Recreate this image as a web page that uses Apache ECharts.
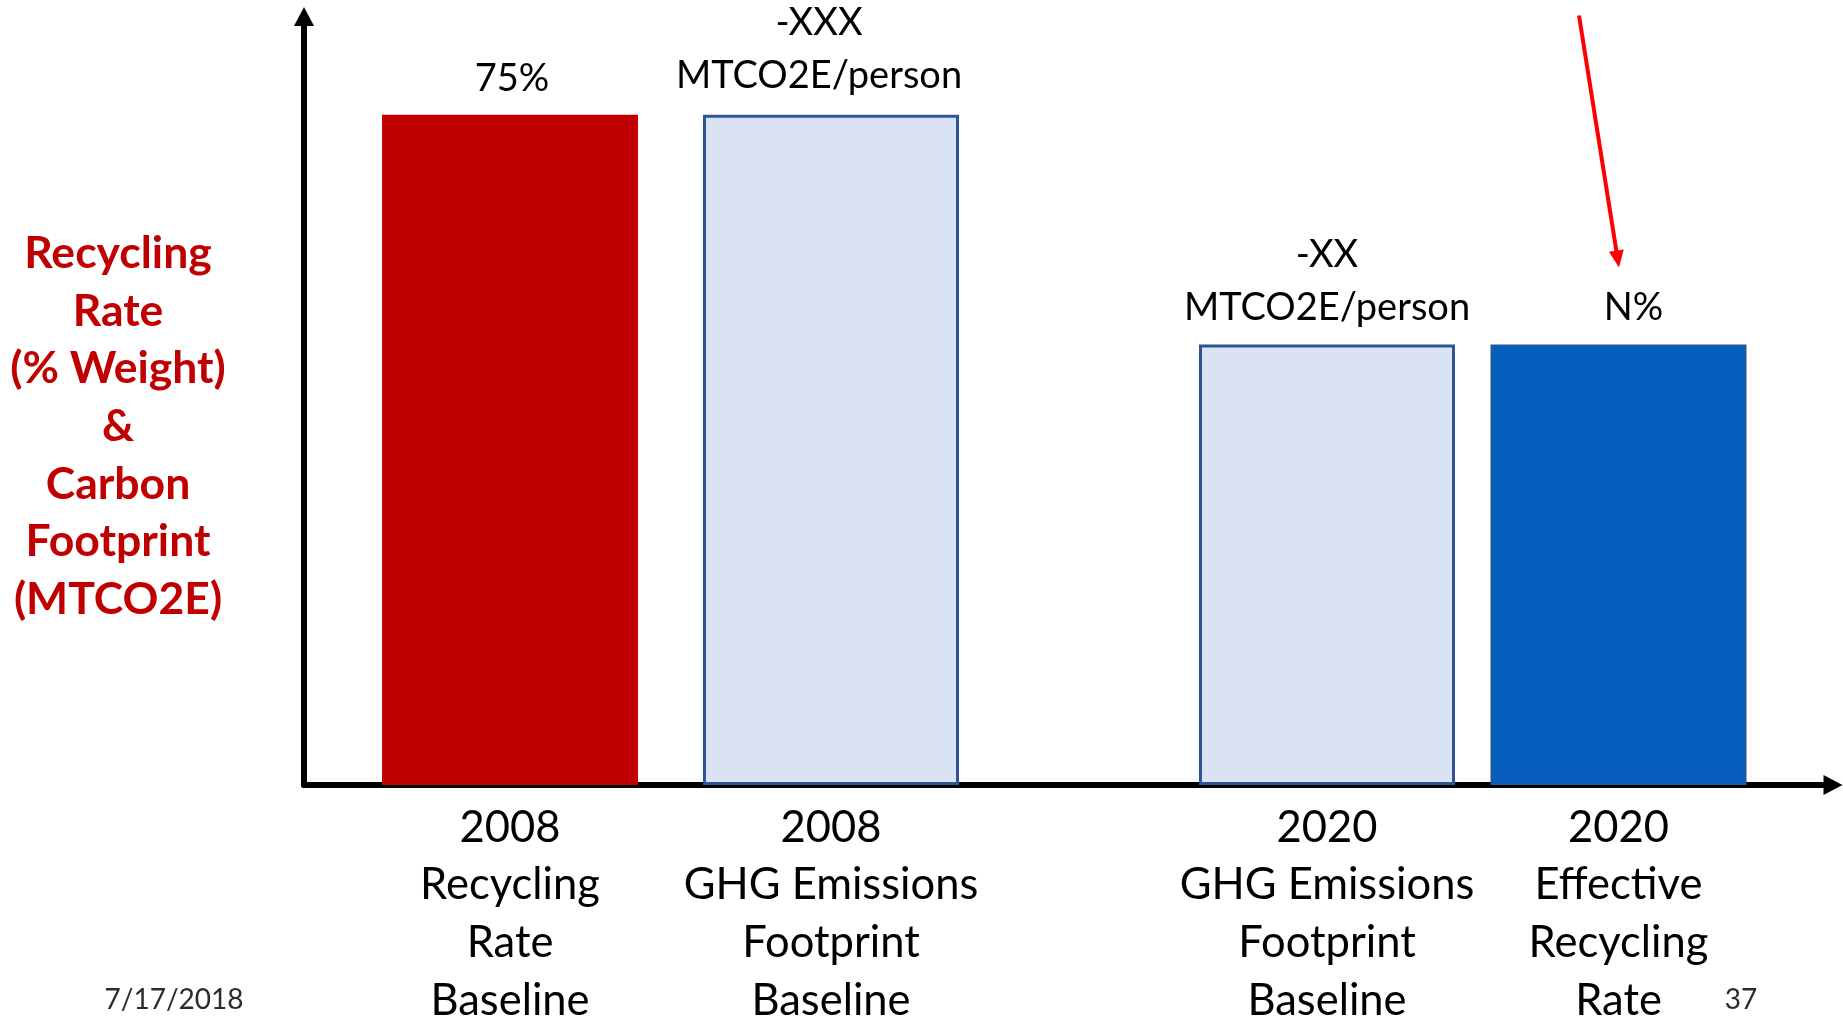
<!DOCTYPE html>
<html>
<head>
<meta charset="utf-8">
<title>Recycling Rate &amp; Carbon Footprint</title>
<script src="https://cdn.jsdelivr.net/npm/echarts@6/dist/echarts.min.js"></script>
<style>
  html, body { margin: 0; padding: 0; background: #fff; }
  #chart { width: 1843px; height: 1017px; }
</style>
</head>
<body>
<div id="chart"></div>
<script>
// Category labels for the two baseline years and the 2020 targets
const categories2008 = ['2008\nRecycling\nRate\nBaseline', '2008\nGHG Emissions\nFootprint\nBaseline'];
const categories2020 = ['2020\nGHG Emissions\nFootprint\nBaseline', '2020\nEffective\nRecycling\nRate'];

// Bar heights on the shared scale (recycling rate in % weight)
const values2008 = [75, 75];
const values2020 = [49.3, 49.3];

// Text shown above each bar
const labels2008 = ['75%', '-XXX\nMTCO2E/person'];
const labels2020 = ['-XX\nMTCO2E/person', 'N%'];

const yTitle = 'Recycling\nRate\n(% Weight)\n&\nCarbon\nFootprint\n(MTCO2E)';
const footerDate = '7/17/2018';
const pageNumber = '37';

const FONT = 'Lato';
const Y_MAX = 86;
const GRID_TOP = 16.5;
const GRID_BOTTOM = 232;

// Bar looks: solid red, outlined light blue, solid blue
const STYLE = {
  red:   { color: '#C00000' },
  light: { color: '#DAE3F3', borderColor: '#2F5597', borderWidth: 3 },
  blue:  { color: '#055EBE', borderColor: '#2F5597', borderWidth: 1.5 }
};
const styles2008 = ['red', 'light'];
const styles2020 = ['light', 'blue'];
const labelShift2008 = [[2, 0], [-12, -3]];
const labelShift2020 = [[0, 0], [15, 0]];

function barData(values, labels, styles, shifts) {
  return values.map((v, i) => ({
    value: v,
    itemStyle: STYLE[styles[i]],
    label: { formatter: labels[i], offset: shifts[i] }
  }));
}

const barLabel = {
  show: true,
  position: 'top',
  distance: 10,
  fontFamily: FONT,
  fontSize: 38,
  lineHeight: 53,
  color: '#000'
};

const categoryLabel = {
  fontFamily: FONT,
  fontSize: 43.5,
  lineHeight: 57.6,
  color: '#000',
  margin: 14,
  interval: 0
};

const hiddenValueAxis = (grid) => ({
  type: 'value', gridIndex: grid, min: 0, max: Y_MAX, show: false
});

const categoryAxis = (grid, data) => ({
  type: 'category', gridIndex: grid, data: data,
  axisLine: { show: false }, axisTick: { show: false },
  axisLabel: categoryLabel
});

const chart = echarts.init(document.getElementById('chart'), null, { renderer: 'canvas' });

const option = {
  backgroundColor: '#fff',
  animation: false,
  title: [
    {
      text: yTitle, left: 118, top: 225, padding: 0, textAlign: 'center',
      textStyle: { fontFamily: FONT, fontWeight: 'bold', fontSize: 44.5, lineHeight: 57.6, color: '#C00000' }
    },
    {
      text: footerDate, left: 174, top: 986, padding: 0, textAlign: 'center',
      textStyle: { fontFamily: FONT, fontWeight: 'normal', fontSize: 28, lineHeight: 28, color: '#2b2b2b' }
    },
    {
      text: pageNumber, left: 1741, top: 986, padding: 0, textAlign: 'center',
      textStyle: { fontFamily: FONT, fontWeight: 'normal', fontSize: 28, lineHeight: 28, color: '#2b2b2b' }
    }
  ],
  grid: [
    // frame carrying the two arrowed axes
    { left: 304, right: 10, top: GRID_TOP, bottom: GRID_BOTTOM, outerBoundsMode: 'none' },
    // 2008 pair of bars
    { left: 349.5, width: 642, top: GRID_TOP, bottom: GRID_BOTTOM, outerBoundsMode: 'none' },
    // 2020 pair of bars
    { left: 1181.25, width: 583, top: GRID_TOP, bottom: GRID_BOTTOM, outerBoundsMode: 'none' }
  ],
  xAxis: [
    {
      type: 'value', gridIndex: 0, min: 0, max: 1,
      axisLine: { show: true, symbol: ['none', 'triangle'], symbolSize: [20, 19], lineStyle: { color: '#000', width: 6 } },
      axisTick: { show: false }, axisLabel: { show: false }, splitLine: { show: false }
    },
    categoryAxis(1, categories2008),
    categoryAxis(2, categories2020)
  ],
  yAxis: [
    {
      type: 'value', gridIndex: 0, min: 0, max: Y_MAX,
      axisLine: { show: true, symbol: ['none', 'triangle'], symbolSize: [20, 19], lineStyle: { color: '#000', width: 6 } },
      axisTick: { show: false }, axisLabel: { show: false }, splitLine: { show: false }
    },
    hiddenValueAxis(1),
    hiddenValueAxis(2)
  ],
  series: [
    {
      type: 'bar', name: '2008', xAxisIndex: 1, yAxisIndex: 1,
      barWidth: 256, label: barLabel,
      data: barData(values2008, labels2008, styles2008, labelShift2008)
    },
    {
      type: 'bar', name: '2020', xAxisIndex: 2, yAxisIndex: 2,
      barWidth: 256, label: barLabel,
      data: barData(values2020, labels2020, styles2020, labelShift2020)
    }
  ]
};

chart.setOption(option);

// Red call-out arrow pointing down at the 2020 effective recycling rate
const target = chart.convertToPixel({ seriesIndex: 1 }, [1, values2020[1]]);
const tip = [target[0] + 0.5, target[1] - 77];
const start = [target[0] - 39.5, target[1] - 329];
const dx = tip[0] - start[0], dy = tip[1] - start[1];
const len = Math.sqrt(dx * dx + dy * dy);
const ux = dx / len, uy = dy / len;
const headLen = 17, headHalf = 7.5;
const base = [tip[0] - ux * headLen, tip[1] - uy * headLen];
chart.setOption({
  graphic: [
    {
      type: 'line', silent: true,
      shape: { x1: start[0], y1: start[1], x2: base[0] + ux * 2, y2: base[1] + uy * 2 },
      style: { stroke: '#FF0000', lineWidth: 4 }
    },
    {
      type: 'polygon', silent: true,
      shape: { points: [tip, [base[0] - uy * headHalf, base[1] + ux * headHalf], [base[0] + uy * headHalf, base[1] - ux * headHalf]] },
      style: { fill: '#FF0000' }
    }
  ]
});
</script>
</body>
</html>
